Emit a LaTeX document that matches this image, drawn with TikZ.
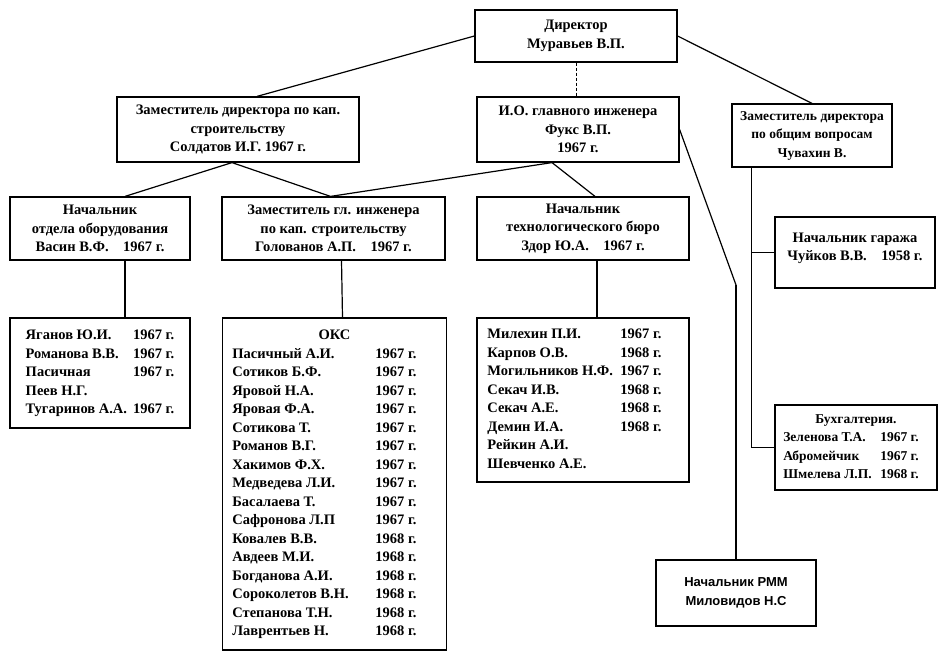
\documentclass[tikz,border=0pt]{standalone}
\usepackage{fontspec}
\setmainfont{Liberation Serif}
\newfontfamily\rmmfont{Liberation Sans}
\usetikzlibrary{calc}

\begin{document}
\begin{tikzpicture}
[x=1pt,y=-1pt,
  boxDecorate/.style={draw,line width=1.2pt,align=center,inner sep=0pt,
    font=\fontsize{14.5}{18.5}\selectfont\bfseries},
  listDecorate/.style={draw,line width=1.2pt,inner sep=0pt,
    font=\fontsize{14.5}{18.5}\selectfont\bfseries},
  smallText/.style={font=\fontsize{13.5}{18.5}\selectfont\bfseries},
  lineDecorate/.style={-,line width=1.2pt}]
\useasboundingbox (0,0) rectangle (952,652);
%% boxes of the chart
\node (dir) at (576,36) [boxDecorate,minimum width=202,minimum height=52]
  {Директор\\Муравьев В.П.};
\node (zamkap) at (238,129.5) [boxDecorate,minimum width=242,minimum height=65]
  {Заместитель директора по кап.\\строительству\\Солдатов И.Г. 1967 г.};
\node (io) at (578,129.5) [boxDecorate,minimum width=202,minimum height=65]
  {И.О. главного инженера\\Фукс В.П.\\1967 г.};
\node (zamobsh) at (812,135.5) [boxDecorate,smallText,minimum width=160,minimum height=63]
  {Заместитель директора\\по общим вопросам\\Чувахин В.};
\node (nachotd) at (100,228.5) [boxDecorate,minimum width=180,minimum height=63]
  {Начальник\\отдела оборудования\\Васин В.Ф.\quad 1967 г.};
\node (zamgl) at (333.5,228.5) [boxDecorate,minimum width=223,minimum height=63]
  {Заместитель гл. инженера\\по кап. строительству\\Голованов А.П.\quad 1967 г.};
\node (nachtech) at (583,228.5) [boxDecorate,minimum width=212,minimum height=63]
  {Начальник\\технологического бюро\\Здор Ю.А.\quad 1967 г.};
\node (garage) at (855,252.5) [boxDecorate,minimum width=160,minimum height=71]
  {Начальник гаража\\Чуйков В.В.\quad 1958 г.\\[-7pt]\mbox{}};
\node (rmm) at (736,593) [boxDecorate,minimum width=160,minimum height=66,
  font=\fontsize{13}{18.5}\selectfont\rmmfont\bfseries]
  {Начальник РММ\\Миловидов Н.С};

%% staff lists
\node (leftlist) at (100,373) [listDecorate,minimum width=180,minimum height=110]
  {\begin{tabular}{@{}l@{\hspace{6pt}}l@{}}
   Яганов Ю.И. & 1967 г.\\
   Романова В.В. & 1967 г.\\
   Пасичная & 1967 г.\\
   Пеев Н.Г. & \\
   Тугаринов А.А. & 1967 г.
   \end{tabular}};
\node (oks) at (334.5,484) [listDecorate,minimum width=224,minimum height=332]
  {\begin{tabular}{@{}p{143pt}@{}l@{\hspace{20pt}}}
   \multicolumn{2}{c}{ОКС}\\
   Пасичный А.И. & 1967 г.\\
   Сотиков Б.Ф. & 1967 г.\\
   Яровой Н.А. & 1967 г.\\
   Яровая Ф.А. & 1967 г.\\
   Сотикова Т. & 1967 г.\\
   Романов В.Г. & 1967 г.\\
   Хакимов Ф.Х. & 1967 г.\\
   Медведева Л.И. & 1967 г.\\
   Басалаева Т. & 1967 г.\\
   Сафронова Л.П & 1967 г.\\
   Ковалев В.В. & 1968 г.\\
   Авдеев М.И. & 1968 г.\\
   Богданова А.И. & 1968 г.\\
   Сороколетов В.Н. & 1968 г.\\
   Степанова Т.Н. & 1968 г.\\
   Лаврентьев Н. & 1968 г.
   \end{tabular}};
\node (techlist) at (583,400) [listDecorate,minimum width=212,minimum height=164]
  {\begin{tabular}{@{}p{133pt}@{}l@{\hspace{17pt}}}
   Милехин П.И. & 1967 г.\\
   Карпов О.В. & 1968 г.\\
   Могильников Н.Ф. & 1967 г.\\
   Секач И.В. & 1968 г.\\
   Секач А.Е. & 1968 г.\\
   Демин И.А. & 1968 г.\\
   Рейкин А.И. & \\
   Шевченко А.Е. &
   \end{tabular}};
\node (buh) at (856,447.5) [listDecorate,smallText,minimum width=162,minimum height=85]
  {\begin{tabular}{@{}p{97pt}@{}l@{\hspace{10pt}}}
   \multicolumn{2}{c}{Бухгалтерия.}\\
   Зеленова Т.А. & 1967 г.\\
   Абромейчик & 1967 г.\\
   Шмелева Л.П. & 1968 г.
   \end{tabular}};

%% joints of the connectors
\coordinate (kaptop) at ($(zamkap.north)+(19,0)$);
\coordinate (kapfork) at ($(zamkap.south)+(-6,0)$);
\coordinate (iofork) at ($(io.south)+(-26,0)$);
\coordinate (otdtop) at ($(nachotd.north)+(25,0)$);
\coordinate (gltop) at ($(zamgl.north)+(-3,0)$);
\coordinate (techtop) at ($(nachtech.north)+(12,0)$);
\coordinate (rmmbend) at (736,285);
\coordinate (obshleg) at ($(zamobsh.south west)+(20,0)$);

%% connectors
\path
\foreach \startnode/\endnode in {
  dir.west/kaptop, dir.east/zamobsh.north, kapfork/otdtop, kapfork/gltop,
  iofork/gltop, iofork/techtop, io.east/rmmbend, rmmbend/rmm.north}
{
  (\startnode) edge[lineDecorate] (\endnode)
};
\foreach \upper/\lower/\dx in {nachotd/leftlist/25, zamgl/oks/8, nachtech/techlist/14}
{
  \draw[lineDecorate] ($(\upper.south)+(\dx,0)$) -- ($(\lower.north)+(\dx,0)$);
}
\draw[lineDecorate] (obshleg) |- (garage.west);
\draw[lineDecorate] (obshleg) |- (buh.west);
\draw[thin,dash pattern=on 3pt off 2pt] (dir.south) -- (dir.south |- io.north);
\end{tikzpicture}
\end{document}
